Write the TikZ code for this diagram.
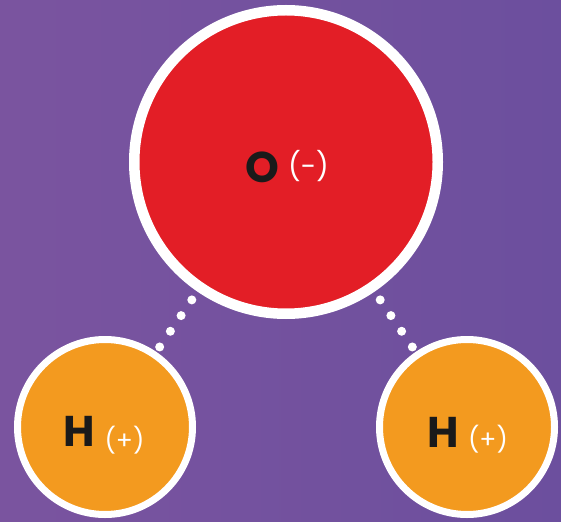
\documentclass[tikz,border=0pt]{standalone}
\usepackage{fontspec}
\setmainfont{Poppins}
\definecolor{bgpurple}{HTML}{6C4F9E}
\definecolor{bgpurpleL}{HTML}{7A549F}
\definecolor{ored}{HTML}{E31E26}
\definecolor{horange}{HTML}{F39A1F}
\definecolor{ink}{HTML}{1A1A1A}
\tikzset{
  atom/.style={circle, draw=white, inner sep=0pt},
  oatom/.style={atom, fill=ored, line width=10.5pt, minimum size=303.5pt},
  hatom/.style={atom, fill=horange, line width=7pt, minimum size=175pt},
  sym/.style={inner sep=0pt, text=ink, font=\bfseries\fontsize{43}{43}\selectfont},
  charge/.style={inner sep=0pt, text=white},
  bond/.style={white, line width=9pt, line cap=round, dash pattern=on 0pt off 19pt},
}
\begin{document}
\begin{tikzpicture}[x=1pt,y=-1pt]
\shade[left color=bgpurpleL, right color=bgpurple] (0,0) rectangle (561,521);
\useasboundingbox (0,0) rectangle (561,521);
\node[oatom] (O) at (286,162) {};
\node[hatom] (HL) at (105,427) {};
\node[hatom] (HR) at (467,427) {};
\node[sym] (Otxt) at (262.5,167) {O};
\node[charge, font=\fontsize{28}{28}\selectfont] (Och) at (308.5,166) {(-)};
\node[sym] (HLtxt) at (79.5,431.5) {H};
\node[charge, font=\fontsize{25}{25}\selectfont] (HLch) at (124.5,440) {(+)};
\node[sym] (HRtxt) at (443,432) {H};
\node[charge, font=\fontsize{25}{25}\selectfont] (HRch) at (488,439) {(+)};
\draw[bond, shorten <=10pt, shorten >=5.5pt] (O) -- (HL);
\draw[bond, shorten <=10pt, shorten >=5.5pt] (O) -- (HR);
\end{tikzpicture}
\end{document}
